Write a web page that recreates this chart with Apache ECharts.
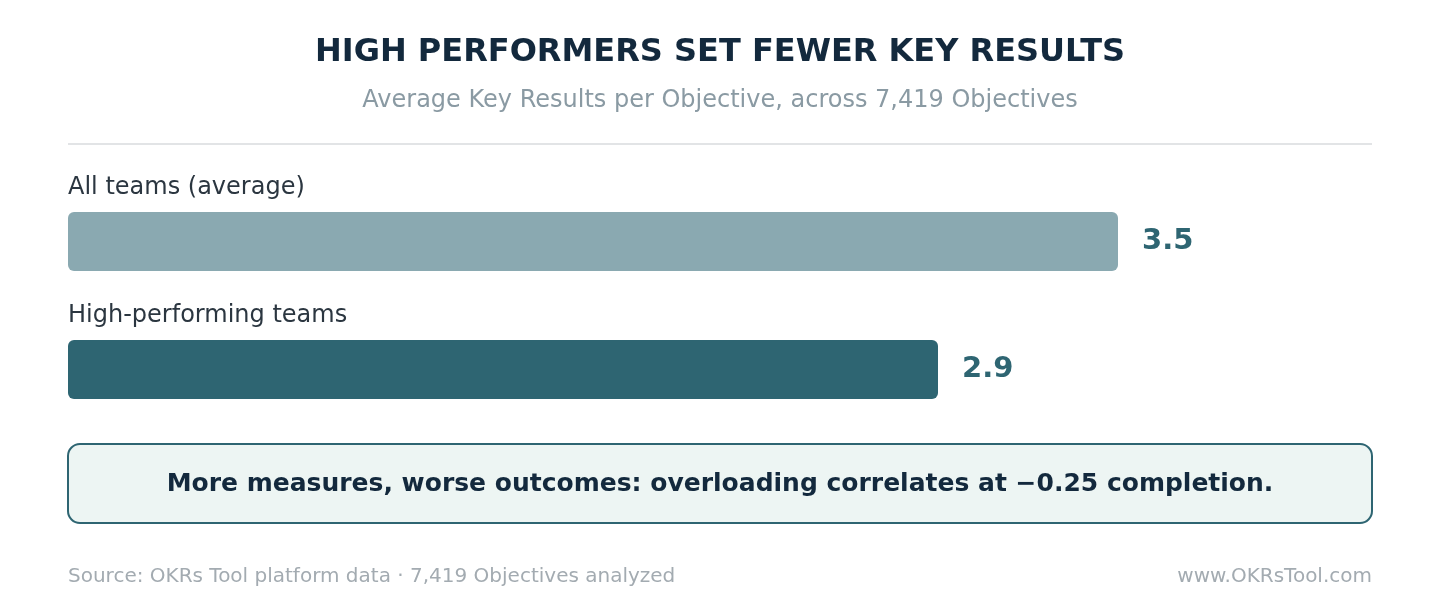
<!DOCTYPE html>
<html><head><meta charset="utf-8">
<script src="https://cdn.jsdelivr.net/npm/echarts@6/dist/echarts.min.js"></script>
<style>html,body{margin:0;padding:0;background:#fff}#c{width:1440px;height:600px}</style>
</head><body><div id="c"></div>
<script>
const categories = ['All teams (average)', 'High-performing teams'];
const values = [3.5, 2.9];
const barColors = ['#8aa9b1', '#2e6572'];
const titleText = 'HIGH PERFORMERS SET FEWER KEY RESULTS';
const subtitleText = 'Average Key Results per Objective, across 7,419 Objectives';
const calloutText = 'More measures, worse outcomes: overloading correlates at \u22120.25 completion.';
const sourceText = 'Source: OKRs Tool platform data \u00b7 7,419 Objectives analyzed';
const siteText = 'www.OKRsTool.com';
const F = 'DejaVu Sans';
const chart = echarts.init(document.getElementById('c'));
chart.setOption({
  animation: false,
  textStyle: { fontFamily: F },
  title: [
    { text: titleText, left: 'center', top: 32, textStyle: { fontFamily: F, fontSize: 32, fontWeight: 'bold', color: '#13293d' } },
    { text: subtitleText, left: 'center', top: 84, textStyle: { fontFamily: F, fontSize: 24, fontWeight: 'normal', color: '#8a9aa3' } }
  ],
  grid: { left: 68, width: 1200, top: 177.5, height: 256 },
  xAxis: { type: 'value', min: 0, max: 4, show: false },
  yAxis: { type: 'category', data: categories, inverse: true, show: false },
  series: [
    { type: 'bar', barWidth: 59, data: values.map((v, i) => ({ value: v, itemStyle: { color: barColors[i], borderRadius: 6 } })),
      label: { show: true, position: 'right', distance: 24, fontFamily: F, fontSize: 29, fontWeight: 'bold', color: '#2e6572' } },
    { type: 'bar', barWidth: 59, barGap: '-100%', silent: true, data: values,
      itemStyle: { color: 'rgba(0,0,0,0)' },
      label: { show: true, position: [0, -36], formatter: p => p.name, fontFamily: F, fontSize: 24, color: '#2b3640' } }
  ],
  graphic: [
    { type: 'line', shape: { x1: 68, y1: 144, x2: 1372, y2: 144 }, style: { stroke: '#e2e4e6', lineWidth: 2 } },
    { type: 'rect', shape: { x: 68, y: 444, width: 1304, height: 79, r: 12 }, style: { fill: '#edf5f3', stroke: '#2e6572', lineWidth: 2 } },
    { type: 'text', x: 720, y: 484, style: { text: calloutText, align: 'center', verticalAlign: 'middle', font: 'bold 25px "DejaVu Sans"', fill: '#13293d' } },
    { type: 'text', x: 68, y: 577, style: { text: sourceText, align: 'left', verticalAlign: 'middle', font: '20px "DejaVu Sans"', fill: '#a3abb1' } },
    { type: 'text', x: 1372, y: 577, style: { text: siteText, align: 'right', verticalAlign: 'middle', font: '20px "DejaVu Sans"', fill: '#a3abb1' } }
  ]
});
</script></body></html>
